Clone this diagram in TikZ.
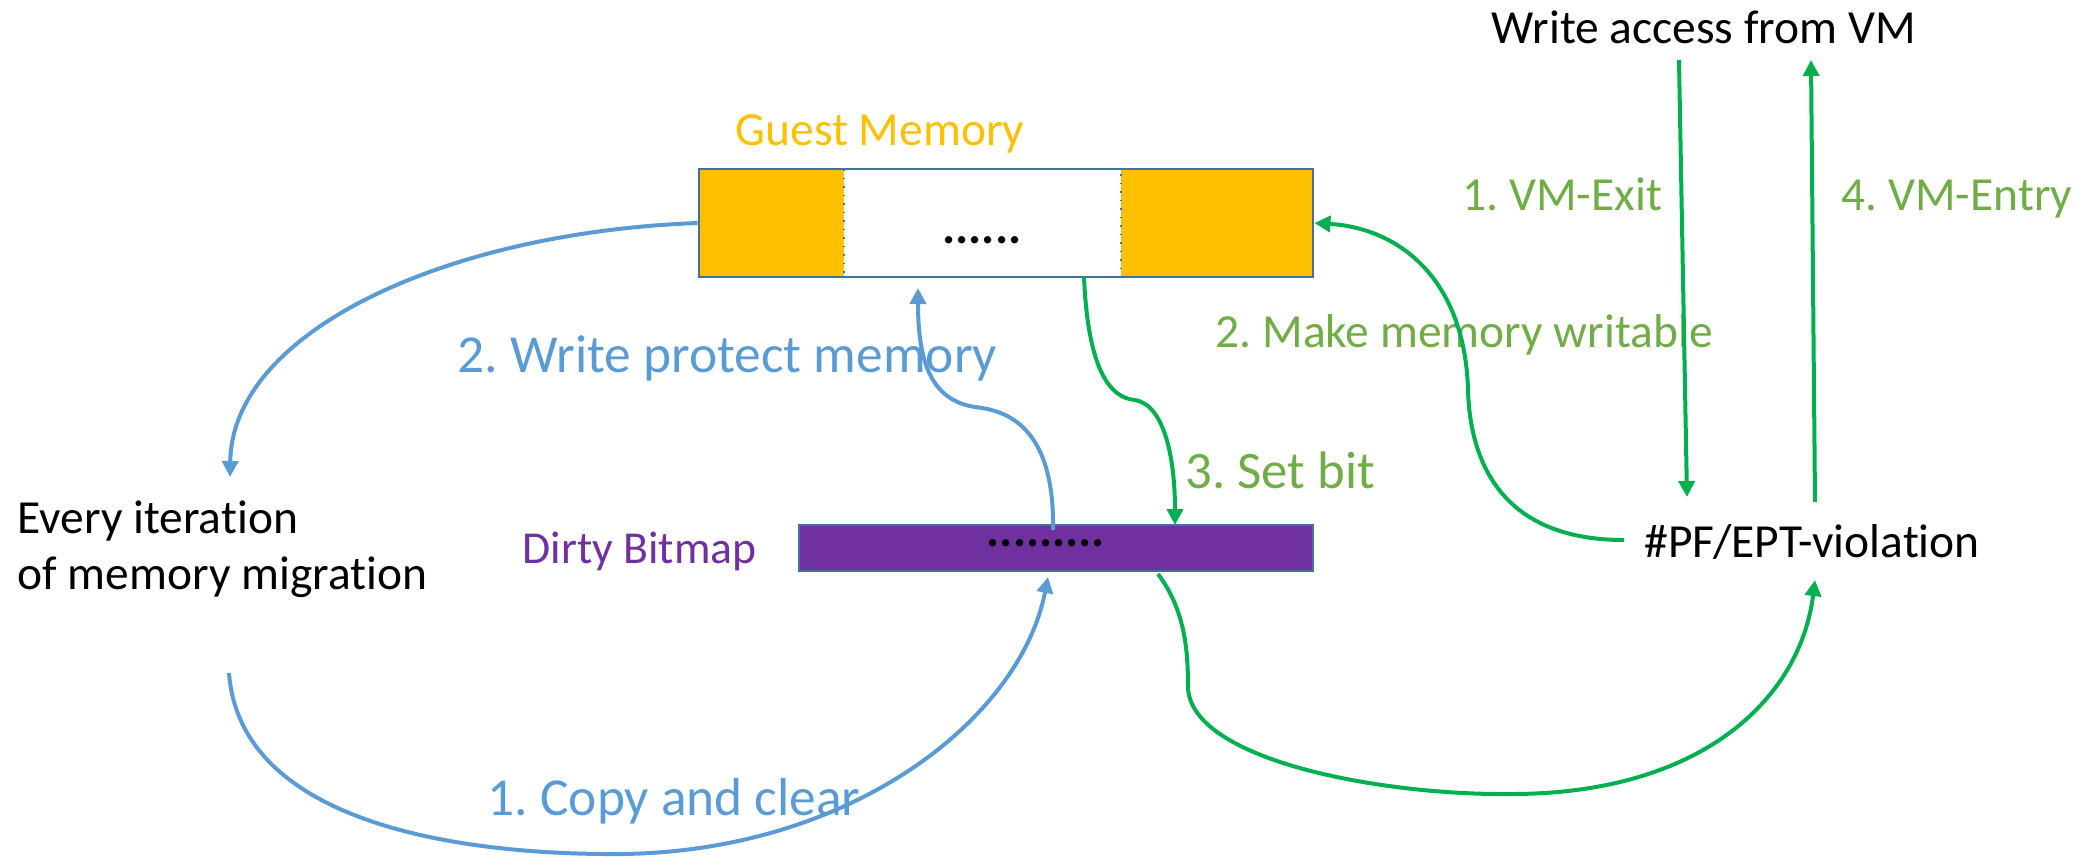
\documentclass[tikz,border=0pt]{standalone}
\usepackage{fontspec}
\setmainfont[Ligatures=NoCommon]{Carlito}
\frenchspacing
\usetikzlibrary{arrows.meta,calc}
\definecolor{gold}{HTML}{FFC000}
\definecolor{purp}{HTML}{7030A0}
\definecolor{edge}{HTML}{41719C}
\definecolor{bluec}{HTML}{5B9BD5}
\definecolor{greenc}{HTML}{00B050}
\definecolor{greent}{HTML}{70AD47}
\tikzset{
  txt/.style={anchor=base west, inner sep=0pt, font=\fontsize{13.5}{16}\selectfont},
  bigtxt/.style={anchor=base west, inner sep=0pt, font=\fontsize{15.2}{18}\selectfont},
  barrow/.style={draw=bluec, line width=0.04cm, -{Triangle[length=0.16cm,width=0.16cm]}},
  garrow/.style={draw=greenc, line width=0.04cm, -{Triangle[length=0.16cm,width=0.16cm]}},
}
\begin{document}
\begin{tikzpicture}[x=0.01cm,y=-0.01cm]
\useasboundingbox (0,0) rectangle (2093,856);
% Guest memory
\fill[gold] (699,169) rectangle (844,277);
\fill[gold] (1121,169) rectangle (1313,277);
\draw[edge, line width=0.015cm, dotted] (844,169) rectangle (1121,277);
\node[draw=edge, line width=0.025cm, minimum width=6.14cm, minimum height=1.08cm, inner sep=0pt] (gm) at (1006,223) {};
\node[inner sep=0pt, font=\fontsize{14}{16}\selectfont\bfseries] (gmdots) at (982,240) {......};
\node[txt, text=gold] (gmlabel) at (735,145) {Guest Memory};
% Dirty bitmap
\node[draw=edge, fill=purp, line width=0.025cm, minimum width=5.14cm, minimum height=0.46cm, inner sep=0pt] (bm) at (1056,548) {};
\node[inner sep=0pt, font=\fontsize{14}{16}\selectfont\bfseries] (bmdots) at (1046,543) {.........};
\node[anchor=base west, inner sep=0pt, font=\fontsize{13}{16}\selectfont, text=purp] (bmlabel) at (522,563) {Dirty Bitmap};
% Texts
\node[txt] (wa) at (1491,43) {Write access from VM};
\node[txt] (pf) at (1644,557) {\#PF/EPT-violation};
\node[txt] (ev) at (17,533) {Every iteration};
\node[txt] (ev2) at (17,589) {of memory migration};
\node[txt, text=greent] (l1) at (1462,210) {1. VM-Exit};
\node[txt, text=greent] (l4) at (1841,210) {4. VM-Entry};
\node[txt, text=greent] (l2) at (1215,347) {2. Make memory writable};
\node[bigtxt, text=greent, font=\fontsize{15}{18}\selectfont] (l3) at (1185,488) {3. Set bit};
\node[bigtxt, text=bluec] (b2) at (457,372) {2. Write protect memory};
\node[bigtxt, text=bluec] (b1) at (487,815) {1. Copy and clear};
% connector endpoints
\coordinate (exTop) at (1679,60);
\coordinate (exBot) at (1687,497);
\coordinate (enBot) at (1815,502);
\coordinate (enTop) at (1811,60);
\coordinate (pfL) at (1624,540);
\coordinate (pfB) at (1815,580);
\coordinate (gmB) at (1084,277);
\coordinate (gmBlue) at (918,288);
\coordinate (bmTin) at (1053,530);
\coordinate (bmTg) at (1175,525);
\coordinate (bmBb) at (1048,577);
\coordinate (bmBg) at (1158,574);
\coordinate (evT) at (230,477);
\coordinate (evB) at (229,673);
% Green connectors
\draw[garrow] (exTop) -- (exBot);
\draw[garrow] (enBot) -- (enTop);
\draw[garrow] (pfL) .. controls (1500,540) and (1470,460) .. (1468,390) .. controls (1465,280) and (1400,228) .. (gm.east);
\draw[garrow] (gmB) .. controls (1088,370) and (1110,398) .. (1135,400) .. controls (1165,405) and (1175,460) .. (bmTg);
\draw[garrow] (bmBg) .. controls (1185,610) and (1188,650) .. (1188,687) .. controls (1190,760) and (1380,795) .. (1508,794) .. controls (1700,795) and (1800,700) .. (pfB);
% Blue connectors
\draw[barrow] (gm.west) .. controls (450,232) and (232,330) .. (evT);
\draw[barrow] (bmTin) .. controls (1055,420) and (1000,410) .. (975,407) .. controls (930,400) and (918,360) .. (gmBlue);
\draw[barrow] (evB) .. controls (240,820) and (450,855) .. (620,854) .. controls (850,852) and (1020,720) .. (bmBb);
\end{tikzpicture}
\end{document}
